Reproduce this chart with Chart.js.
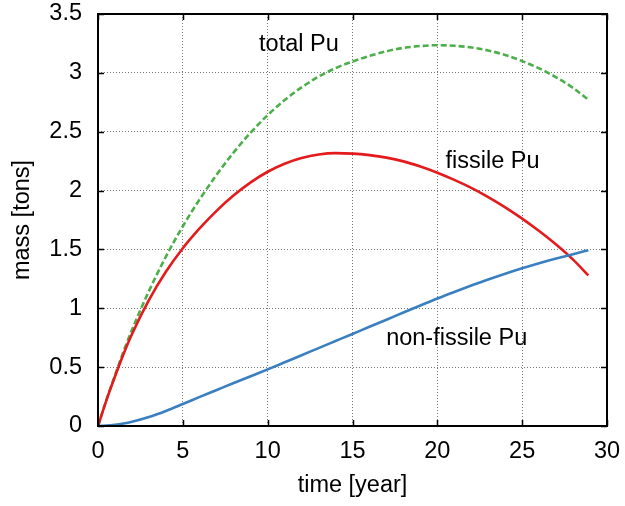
<!DOCTYPE html>
<html>
<head>
<meta charset="utf-8">
<script src="https://cdn.jsdelivr.net/npm/chart.js@4/dist/chart.umd.min.js"></script>
<style>
  html, body { margin: 0; padding: 0; background: #fff; }
  #wrap { width: 625px; height: 506px; position: relative; }
</style>
</head>
<body>
<div id="wrap"><canvas id="c" width="625" height="506"></canvas></div>
<script>
// ---- data ----
const years = [0, 0.5, 1, 1.5, 2, 3, 4, 5, 6, 7, 8, 9, 10, 11, 12, 13, 14, 15, 16, 17, 18, 19, 20, 21, 22, 23, 24, 25, 26, 27, 28, 28.9];
const totalPu = [0, 0.223, 0.43, 0.631, 0.816, 1.146, 1.438, 1.697, 1.927, 2.136, 2.325, 2.493, 2.641, 2.769, 2.877, 2.968, 3.04, 3.096, 3.144, 3.183, 3.212, 3.228, 3.235, 3.23, 3.216, 3.19, 3.152, 3.10, 3.038, 2.962, 2.872, 2.772];
const fissilePu = [0, 0.22, 0.42, 0.61, 0.78, 1.07, 1.31, 1.51, 1.68, 1.83, 1.96, 2.07, 2.16, 2.228, 2.276, 2.306, 2.318, 2.314, 2.301, 2.28, 2.248, 2.204, 2.152, 2.091, 2.023, 1.945, 1.858, 1.762, 1.656, 1.541, 1.413, 1.279];
const nonFissilePu = [0, 0.003, 0.01, 0.021, 0.036, 0.076, 0.128, 0.187, 0.247, 0.306, 0.365, 0.423, 0.481, 0.541, 0.601, 0.662, 0.722, 0.782, 0.843, 0.903, 0.964, 1.024, 1.083, 1.139, 1.193, 1.245, 1.294, 1.34, 1.383, 1.423, 1.46, 1.493];
const xTicks = [0, 5, 10, 15, 20, 25, 30];
const yTicks = [0, 0.5, 1, 1.5, 2, 2.5, 3, 3.5];
const labels = [
  { text: "total Pu", x: 11.84, y: 3.237 },
  { text: "fissile Pu", x: 23.25, y: 2.251 },
  { text: "non-fissile Pu", x: 21.14, y: 0.739 }
];

const FONT = "'Liberation Sans', Arial, sans-serif";
const FS = 23.5;
const pts = (arr) => years.map((x, i) => ({ x: x, y: arr[i] }));

const framePlugin = {
  id: 'frame',
  afterDatasetsDraw(chart) {
    const { ctx, chartArea: a, scales } = chart;
    ctx.save();
    ctx.strokeStyle = '#000';
    ctx.lineWidth = 1.5;
    const tl = 6;
    xTicks.forEach(v => {
      const px = Math.round(scales.x.getPixelForValue(v)) + 0.5;
      ctx.beginPath();
      ctx.moveTo(px, a.bottom); ctx.lineTo(px, a.bottom - tl);
      ctx.moveTo(px, a.top); ctx.lineTo(px, a.top + tl);
      ctx.stroke();
    });
    yTicks.forEach(v => {
      const py = Math.round(scales.y.getPixelForValue(v)) + 0.5;
      ctx.beginPath();
      ctx.moveTo(a.left, py); ctx.lineTo(a.left + tl, py);
      ctx.moveTo(a.right, py); ctx.lineTo(a.right - tl, py);
      ctx.stroke();
    });
    ctx.lineWidth = 2;
    ctx.strokeRect(a.left, a.top, a.right - a.left, a.bottom - a.top);
    ctx.fillStyle = '#000';
    ctx.font = FS + "px " + FONT;
    ctx.textAlign = 'center';
    ctx.textBaseline = 'middle';
    labels.forEach(l => {
      ctx.fillText(l.text, scales.x.getPixelForValue(l.x), scales.y.getPixelForValue(l.y));
    });
    ctx.restore();
  }
};

const noOverhang = (s) => { s.paddingTop = 0; s.paddingBottom = 0; s.paddingLeft = 0; s.paddingRight = 0; };

new Chart(document.getElementById('c'), {
  type: 'line',
  data: {
    datasets: [
      { label: 'non-fissile Pu', data: pts(nonFissilePu), borderColor: '#3a7fc0', borderWidth: 2.6, pointRadius: 0, cubicInterpolationMode: 'monotone', fill: false },
      { label: 'fissile Pu', data: pts(fissilePu), borderColor: '#e41a1c', borderWidth: 2.6, pointRadius: 0, cubicInterpolationMode: 'monotone', fill: false },
      { label: 'total Pu', data: pts(totalPu), borderColor: '#4daf4a', borderWidth: 2.6, borderDash: [6, 3], pointRadius: 0, cubicInterpolationMode: 'monotone', fill: false }
    ]
  },
  options: {
    responsive: false,
    animation: false,
    layout: { padding: { left: 0, right: 18, top: 14, bottom: 0 } },
    plugins: { legend: { display: false }, tooltip: { enabled: false } },
    scales: {
      x: {
        type: 'linear', min: 0, max: 30,
        afterBuildTicks: (s) => { s.ticks = xTicks.map(v => ({ value: v })); },
        afterFit: (s) => { s.height = 80; noOverhang(s); },
        ticks: { color: '#000', font: { family: FONT, size: FS }, padding: 11, maxRotation: 0, callback: (v) => String(v) },
        grid: { color: '#777', drawTicks: false, lineWidth: 1 },
        border: { display: false, dash: [1, 2] },
        title: { display: true, text: 'time [year]', color: '#000', font: { family: FONT, size: FS }, padding: { top: 0, bottom: 6 } }
      },
      y: {
        type: 'linear', min: 0, max: 3.5,
        afterBuildTicks: (s) => { s.ticks = yTicks.map(v => ({ value: v })); },
        afterFit: (s) => { s.width = 98; noOverhang(s); },
        ticks: { color: '#000', font: { family: FONT, size: FS }, padding: 16, callback: (v) => String(v) },
        grid: { color: '#777', drawTicks: false, lineWidth: 1 },
        border: { display: false, dash: [1, 2] },
        title: { display: true, text: 'mass [tons]', color: '#000', font: { family: FONT, size: FS }, padding: { top: 8, bottom: 0 } }
      }
    }
  },
  plugins: [framePlugin]
});
</script>
</body>
</html>
